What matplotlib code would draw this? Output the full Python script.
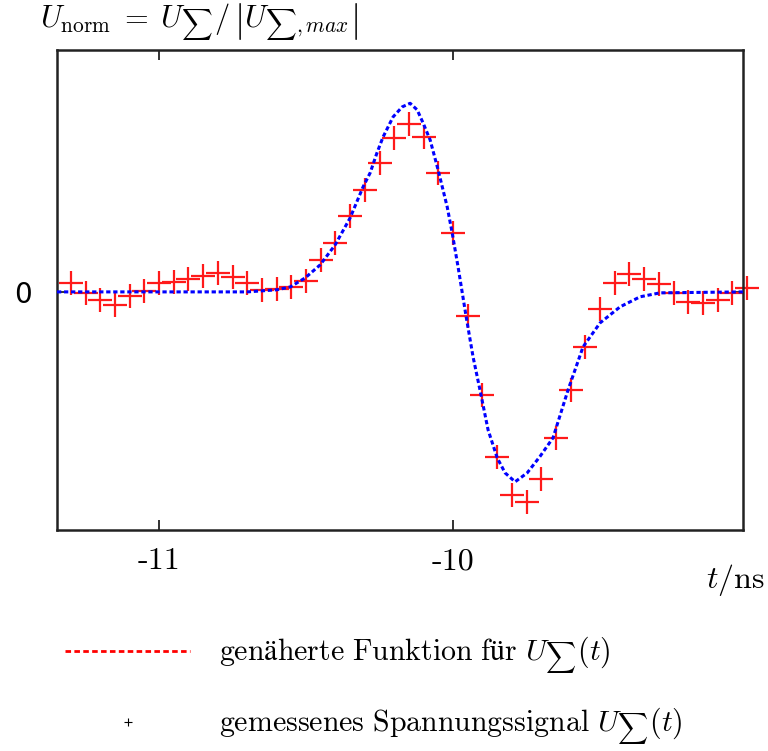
import matplotlib
matplotlib.use("Agg")
import matplotlib.pyplot as plt
from matplotlib.lines import Line2D
import numpy as np

plt.rcParams['font.family'] = ['cmr10', 'STIXGeneral', 'DejaVu Serif']
plt.rcParams['mathtext.fontset'] = 'cm'
plt.rcParams['axes.unicode_minus'] = False

# measured signal (t in ns, normalised voltage)
t_meas = [-11.30 + 0.05 * i for i in range(47)]
u_meas = [0.045, -0.005, -0.042, -0.069, -0.021, 0.003, 0.048, 0.053, 0.069, 0.085,
          0.100, 0.079, 0.048, 0.011, 0.016, 0.026, 0.058, 0.169, 0.259, 0.402,
          0.540, 0.683, 0.815, 0.889, 0.820, 0.630, 0.312, -0.127, -0.545, -0.873,
          -1.074, -1.111, -0.989, -0.772, -0.519, -0.291, -0.090, 0.048, 0.095, 0.069,
          0.042, -0.005, -0.053, -0.058, -0.042, -0.005, 0.021]

# approximated function
t_fit = [-11.347, -10.70, -10.60, -10.554, -10.503, -10.452, -10.401, -10.350, -10.306,
         -10.282, -10.259, -10.238, -10.204, -10.173, -10.146, -10.122, -10.102, -10.078,
         -10.051, -10.020, -10.003, -9.983, -9.956, -9.932, -9.905, -9.881, -9.850,
         -9.823, -9.789, -9.748, -9.704, -9.660, -9.609, -9.558, -9.500, -9.432,
         -9.364, -9.296, -9.014]
u_fit = [0.0, 0.0, 0.011, 0.026, 0.074, 0.143, 0.249, 0.392, 0.556,
         0.630, 0.735, 0.820, 0.926, 0.979, 0.998, 0.963, 0.894, 0.804,
         0.646, 0.450, 0.312, 0.132, -0.127, -0.344, -0.545, -0.730, -0.878,
         -0.958, -1.005, -0.958, -0.870, -0.772, -0.519, -0.291, -0.164, -0.079,
         -0.026, -0.005, 0.0]

xticks = [-11, -10]
xticklabels = ['-11', '-10']

fig = plt.figure(figsize=(7.68, 7.51), dpi=100)
ax = fig.add_axes([57/768, 1-530/751, (743-57)/768, (530-50)/751])

ax.plot(t_meas, u_meas, linestyle='none', marker='+', markersize=17, markeredgewidth=1.6,
        color='#ff1a1a', zorder=2, clip_on=False)
ax.plot(t_fit, u_fit, color='#0000ff', linewidth=2.2, linestyle=(0, (1.4, 0.9)), zorder=3)

ax.set_xlim(-11.347, -9.014)
ax.set_ylim(-1.26, 1.28)
ax.set_xticks(xticks)
ax.set_xticklabels(xticklabels, fontsize=23)
ax.set_yticks([0])
ax.set_yticklabels(['0'], fontsize=20, family='DejaVu Sans')
ax.tick_params(axis='both', direction='in', length=7, width=1.3, top=True, right=True,
               color='#222222')
ax.tick_params(axis='x', pad=13)
ax.tick_params(axis='y', pad=18)
for s in ax.spines.values():
    s.set_linewidth(1.8)
    s.set_color('#222222')

fig.text(40/768, 1-22/751, r'$U_{\rm norm}\;=\;U_{\sum}/\,\left|U_{\sum,max}\right|$',
         fontsize=22, va='center', ha='left')
fig.text(765/768, 1-580/751, r'$t/\mathrm{ns}$', fontsize=23, va='center', ha='right')

handles = [Line2D([], [], color='red', linestyle=(0, (2.0, 1.2)), linewidth=2.0),
           Line2D([], [], color='black', linestyle='none', marker='+', markersize=6,
                  markeredgewidth=0.8)]
labels = [r'$\mathrm{genäherte\ Funktion\ für}\ U_{\sum}(t)$',
          r'$\mathrm{gemessenes\ Spannungssignal}\ U_{\sum}(t)$']
fig.legend(handles, labels, loc='upper left', bbox_to_anchor=(65/768, 1-634/751),
           frameon=False, fontsize=21.5, handlelength=4.2, handletextpad=0.95,
           labelspacing=0.95, borderpad=0, borderaxespad=0)

fig.savefig('out.png', dpi=100)
